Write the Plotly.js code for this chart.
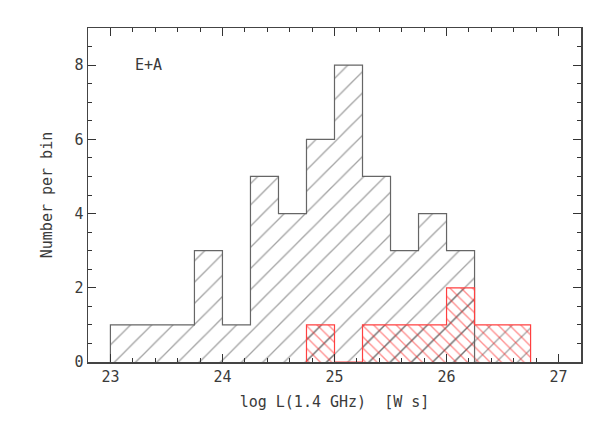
<!DOCTYPE html>
<html>
<head>
<meta charset="utf-8">
<script src="https://cdn.plot.ly/plotly-3.0.1.min.js"></script>
<style>html,body{margin:0;padding:0;background:#fff}#plot{width:600px;height:437px}</style>
</head>
<body>
<div id="plot"></div>
<script>
// Bin width 0.25 in log L
var binWidth = 0.25;
var allEdges = [23.0, 23.25, 23.5, 23.75, 24.0, 24.25, 24.5, 24.75, 25.0, 25.25, 25.5, 25.75, 26.0];
var allCounts = [1, 1, 1, 3, 1, 5, 4, 6, 8, 5, 3, 4, 3];
var eaEdges = [24.75, 25.0, 25.25, 25.5, 25.75, 26.0, 26.25, 26.5];
var eaCounts = [1, 0, 1, 1, 1, 2, 1, 1];
var xTickVals = [23, 24, 25, 26, 27];
var yTickVals = [0, 2, 4, 6, 8];

function centers(edges){ return edges.map(function(e){ return e + binWidth/2; }); }
function stepX(edges){ var x=[edges[0]]; edges.forEach(function(e){x.push(e);}); x.push(edges[edges.length-1]+binWidth); return x; }
function stepY(counts){ var y=[0]; counts.forEach(function(c){y.push(c);}); y.push(0); return y; }

var grayLine = '#666';
var hatchGray = '#4a4a4a';
var traces = [
  {type:'bar', x:centers(allEdges), y:allCounts, width:binWidth,
   marker:{color:'rgba(0,0,0,0)', line:{width:0},
     pattern:{shape:'/', fgcolor:hatchGray, bgcolor:'rgba(0,0,0,0)', size:15, solidity:0.09, fillmode:'overlay'}},
   hoverinfo:'skip', showlegend:false},
  {type:'bar', x:centers(eaEdges), y:eaCounts, width:binWidth,
   marker:{color:'rgba(0,0,0,0)', line:{width:0},
     pattern:{shape:'/', fgcolor:hatchGray, bgcolor:'rgba(0,0,0,0)', size:15, solidity:0.09, fillmode:'overlay'}},
   hoverinfo:'skip', showlegend:false},
  {type:'bar', x:centers(eaEdges), y:eaCounts, width:binWidth,
   marker:{color:'rgba(0,0,0,0)', line:{width:0},
     pattern:{shape:'\\', fgcolor:'#ff2020', bgcolor:'rgba(0,0,0,0)', size:8, solidity:0.17, fillmode:'overlay'}},
   hoverinfo:'skip', showlegend:false},
  {type:'scatter', mode:'lines', x:stepX(allEdges), y:stepY(allCounts),
   line:{shape:'hv', color:grayLine, width:1.2}, hoverinfo:'skip', showlegend:false},
  {type:'scatter', mode:'lines', x:stepX(eaEdges), y:stepY(eaCounts),
   line:{shape:'hv', color:'#ff4040', width:1.2}, hoverinfo:'skip', showlegend:false}
];

var fontFam = '"DejaVu Sans Mono", monospace';
var txt = {family:fontFam, size:15, color:'#3a3a3a'};
var layout = {
  width:600, height:437,
  margin:{l:88, r:19, t:28, b:75},
  paper_bgcolor:'#fff', plot_bgcolor:'#fff',
  barmode:'overlay', bargap:0,
  font:txt,
  xaxis:{range:[22.8, 27.2], tickvals:xTickVals, ticktext:xTickVals.map(String),
    ticks:'inside', ticklen:8, tickwidth:1.2, tickcolor:'#333',
    showline:true, linecolor:'#444', linewidth:1.5, mirror:'ticks',
    showgrid:false, zeroline:false,
    minor:{dtick:0.2, tick0:23, ticks:'inside', ticklen:4, tickwidth:1, tickcolor:'#333', showgrid:false},
    tickfont:txt,
    title:{text:'log L(1.4 GHz)&nbsp;&nbsp;[W s]', font:txt, standoff:12}},
  yaxis:{range:[0, 9], tickvals:yTickVals, ticktext:yTickVals.map(String),
    ticks:'inside', ticklen:8, tickwidth:1.2, tickcolor:'#333',
    showline:true, linecolor:'#444', linewidth:1.5, mirror:'ticks',
    showgrid:false, zeroline:false,
    minor:{dtick:0.5, tick0:0, ticks:'inside', ticklen:4, tickwidth:1, tickcolor:'#333', showgrid:false},
    tickfont:txt,
    title:{text:'Number per bin', font:txt, standoff:18}},
  annotations:[{x:23.2, y:8, xref:'x', yref:'y', text:'E+A', showarrow:false, xanchor:'left', yanchor:'middle',
    font:txt}]
};
Plotly.newPlot('plot', traces, layout, {displayModeBar:false, staticPlot:true});
</script>
</body>
</html>
